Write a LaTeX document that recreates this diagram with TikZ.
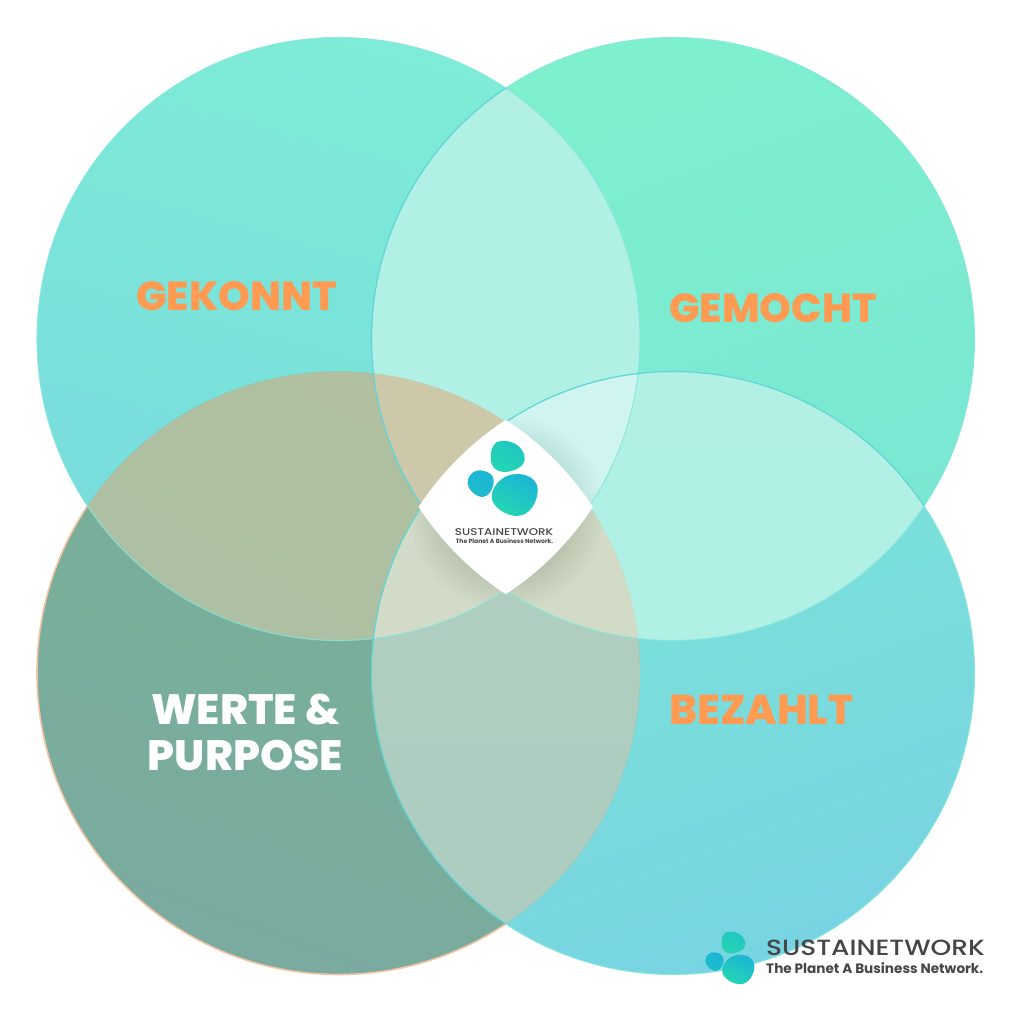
\documentclass[tikz,border=0pt]{standalone}
\usepackage{fontspec}
\setmainfont{Poppins}
\newfontfamily\heavyfont{Poppins ExtraBold}
\newfontfamily\medfont{Poppins Medium}
% colours
\definecolor{tlA}{RGB}{126,236,214}\definecolor{tlB}{RGB}{120,218,222}
\definecolor{trA}{RGB}{126,240,206}\definecolor{trB}{RGB}{122,230,212}
\definecolor{brA}{RGB}{124,230,214}\definecolor{brB}{RGB}{120,212,226}
\definecolor{blA}{RGB}{120,178,150}\definecolor{blB}{RGB}{122,170,160}
\definecolor{ttA}{RGB}{178,240,228}\definecolor{ttB}{RGB}{174,240,230}
\definecolor{tbA}{RGB}{176,192,160}\definecolor{tbB}{RGB}{172,192,166}
\definecolor{bbA}{RGB}{178,208,190}\definecolor{bbB}{RGB}{172,204,194}
\definecolor{orangeT}{RGB}{255,154,82}
\definecolor{ink}{RGB}{70,70,72}
\definecolor{logoA}{RGB}{36,214,178}\definecolor{logoB}{RGB}{28,182,212}
\definecolor{edgeCyan}{RGB}{84,208,214}
\definecolor{edgeLight}{RGB}{130,230,222}
\definecolor{edgePeach}{RGB}{240,196,160}
\newcommand{\bigfont}[1]{\fontsize{#1}{46}\selectfont\heavyfont}
\tikzset{x=1pt,y=-1pt,
 bigtext/.style={align=center,inner sep=0pt},
 blob/.style={draw=none}}
\newcommand{\cTL}{(338.5,339) circle (301.5)}
\newcommand{\cTR}{(673,339) circle (301.5)}
\newcommand{\cBL}{(338.5,673) circle (301.5)}
\newcommand{\cBR}{(673,673) circle (301.5)}
\newcommand{\softshade}{\foreach \rr in {62,65,...,98}{\fill[black,fill opacity=.008] (507,512) circle (\rr);}}
\newcommand{\logomark}[3]{% x y scale
 \begin{scope}[shift={(#1,#2)},scale=#3]
  \shade[blob,left color=logoB!55!logoA,right color=logoA,shading angle=-30]
    (-10,-38) .. controls (2,-42) and (17,-35) .. (18,-22) .. controls (19,-13) and (6,-8) .. (-3,-8) .. controls (-10,-8) and (-16,-13) .. (-16,-22) .. controls (-16,-29) and (-15,-34) .. (-10,-38) -- cycle;
  \shade[blob,left color=logoB,right color=logoB!85!logoA,shading angle=-30]
    (-31,-9) .. controls (-25,-11) and (-13,-8) .. (-13,1) .. controls (-13,8) and (-18,17) .. (-24,17) .. controls (-30,17) and (-39,10) .. (-39,3) .. controls (-39,-3) and (-36,-7) .. (-31,-9) -- cycle;
  \shade[blob,left color=logoB,right color=logoA,shading angle=-30]
    (10,-6) .. controls (22,-6) and (31,0) .. (31,10) .. controls (31,22) and (23,36) .. (10,36) .. controls (0,36) and (-15,27) .. (-15,17) .. controls (-15,5) and (-3,-6) .. (10,-6) -- cycle;
 \end{scope}}
\begin{document}
\begin{tikzpicture}
\useasboundingbox (0,0) rectangle (1024,1024);
\fill[white] (0,0) rectangle (1024,1024);
% single circles
\shade[top color=trA,bottom color=trB,shading angle=20] \cTR;
\shade[top color=brA,bottom color=brB,shading angle=20] \cBR;
\shade[top color=tlA,bottom color=tlB,shading angle=-15] \cTL;
\shade[top color=blA,bottom color=blB,shading angle=-20] \cBL;
% two-circle overlaps
\begin{scope}\clip \cTL;\shade[top color=ttA,bottom color=ttB] \cTR;\end{scope}
\begin{scope}\clip \cTR;\shade[top color=ttA,bottom color=ttB] \cBR;\end{scope}
\begin{scope}\clip \cTL;\shade[top color=tbA,bottom color=tbB,shading angle=-30] \cBL;\end{scope}
\begin{scope}\clip \cBL;\shade[top color=bbA,bottom color=bbB] \cBR;\end{scope}
% three-circle overlaps with the soft shadow of the centre
\begin{scope}\clip \cTL;\clip \cTR;\fill[fill={rgb,255:red,205;green,200;blue,170}] \cBL;\end{scope}
\begin{scope}\clip \cTL;\clip \cTR;\fill[fill={rgb,255:red,208;green,245;blue,241}] \cBR;\clip \cBR;\softshade\end{scope}
\begin{scope}\clip \cBL;\clip \cBR;\fill[fill={rgb,255:red,210;green,219;blue,200}] \cTL;\clip \cTL;\softshade\end{scope}
\begin{scope}\clip \cBL;\clip \cBR;\fill[fill={rgb,255:red,210;green,219;blue,198}] \cTR;\clip \cTR;\softshade\end{scope}
% edges
\begin{scope}[line width=1.1pt]
\draw[draw=edgeLight,draw opacity=.8] \cTL;
\draw[draw=edgeLight,draw opacity=.8] \cTR;
\draw[draw=edgeLight,draw opacity=.8] \cBR;
\begin{scope}\clip (0,506) rectangle (506,1024);\draw[draw=edgePeach,line width=1.6pt] \cBL;\end{scope}
\begin{scope}\clip (0,0) rectangle (506,506);\draw[draw=edgeCyan,draw opacity=.8] \cTR;\end{scope}
\begin{scope}\clip (0,0) -- (1024,0) -- (1024,506) -- (506,506) -- (506,1024) -- (0,1024) -- cycle;\draw[draw=edgeCyan,draw opacity=.8] \cBR;\end{scope}
\end{scope}
% centre
\begin{scope}
\clip (340.5,342) circle (301.5);\clip (671,342) circle (301.5);\clip (340.5,672) circle (301.5);
\fill[white] (671,672) circle (301.5);
\end{scope}
\logomark{506.7}{480}{1}
\node[inner sep=0pt,text=ink] (lname) at (504,532) {\scalebox{1.21}[1]{\fontsize{9.8}{12}\selectfont\medfont SUSTAINETWORK}};
\node[inner sep=0pt,text=ink] (lsub) at (504.5,541) {\fontsize{6.1}{7}\selectfont\bfseries The Planet A Business Network.};
% labels
\node[bigtext,text=orangeT,font=\bigfont{40.5}] (gekonnt) at (236.5,296) {GEKONNT};
\node[bigtext,text=orangeT,font=\bigfont{40.4}] (gemocht) at (773,308) {GEMOCHT};
\node[bigtext,text=orangeT,font=\bigfont{41.6}] (bezahlt) at (761.5,710) {BEZAHLT};
\node[bigtext,text=white,font=\bigfont{42.4}] (werte) at (245.5,732) {WERTE \&\\PURPOSE};
% corner logo
\logomark{732.7}{959}{.7}
\node[inner sep=0pt,text=ink,anchor=west] (cname) at (766,948.3) {\scalebox{1.2}[1]{\fontsize{22}{24}\selectfont\medfont SUSTAINETWORK}};
\node[inner sep=0pt,text=ink,anchor=west] (csub) at (766,968) {\fontsize{13.6}{14}\selectfont\bfseries The Planet A Business Network.};
\end{tikzpicture}
\end{document}
